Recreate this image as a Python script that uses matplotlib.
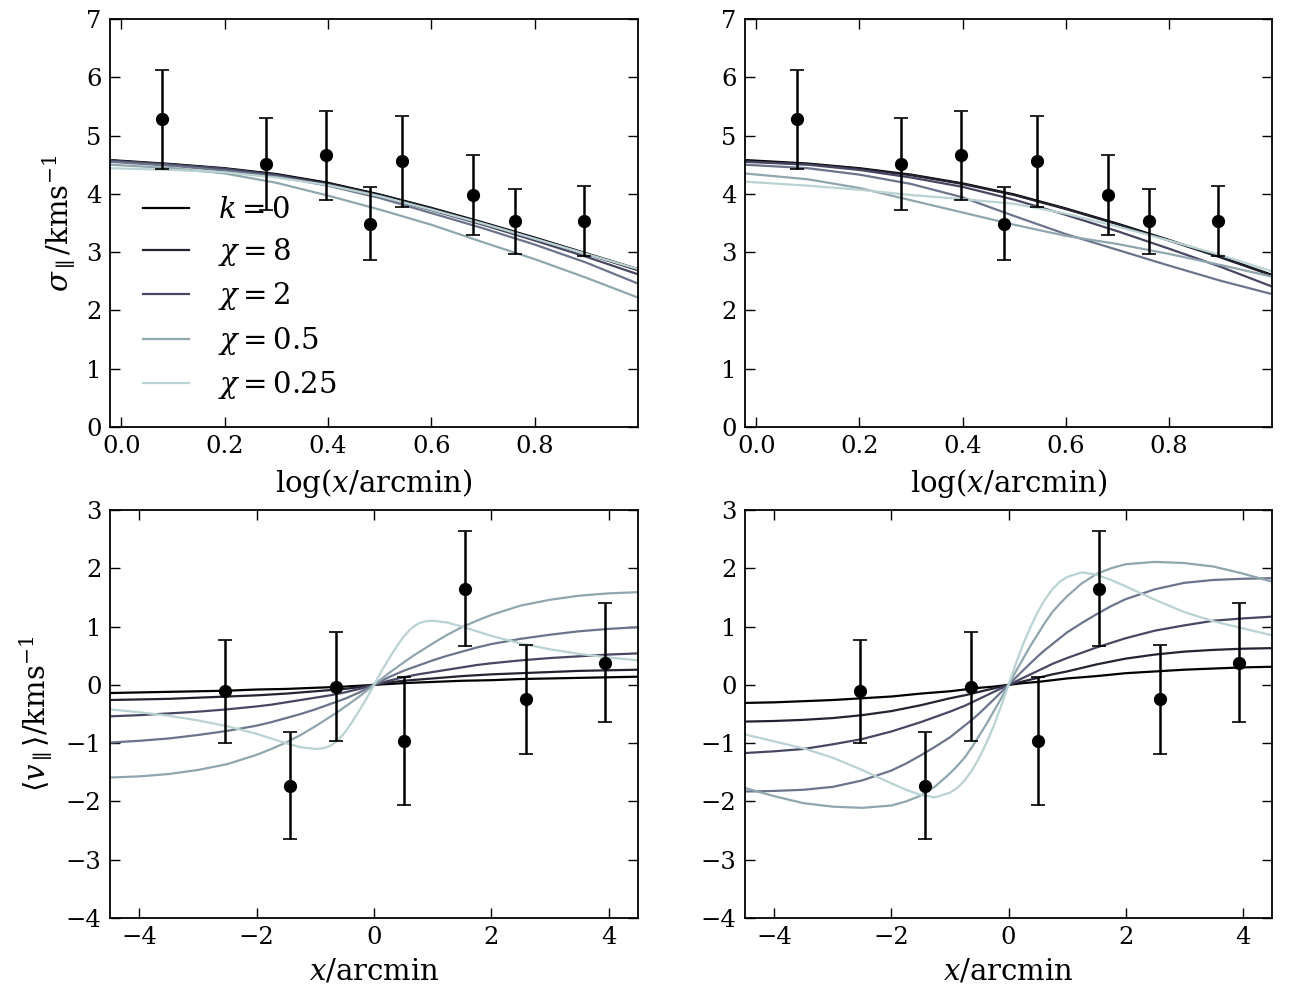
import numpy as np
import matplotlib
matplotlib.use("Agg")
import matplotlib.pyplot as plt

plt.rcParams['font.family'] = ['DejaVu Serif']
plt.rcParams['mathtext.fontset'] = 'dejavuserif'
plt.rcParams['axes.unicode_minus'] = True

# ---------------- data: velocity dispersion (top row) ----------------
sig_x = [0.078, 0.280, 0.397, 0.481, 0.544, 0.681, 0.761, 0.895]
sig_y = [5.28, 4.51, 4.66, 3.49, 4.56, 3.98, 3.53, 3.53]
sig_err = [0.85, 0.79, 0.76, 0.62, 0.78, 0.68, 0.56, 0.60]

# ---------------- data: mean velocity (bottom row) ----------------
vel_x = [-2.54, -1.43, -0.64, 0.51, 1.55, 2.59, 3.93]
vel_y = [-0.11, -1.73, -0.03, -0.96, 1.65, -0.25, 0.38]
vel_err = [0.88, 0.92, 0.94, 1.10, 0.99, 0.93, 1.02]

# ---------------- model curves, top row ----------------
top_x = [-0.022, 0.1, 0.2, 0.3, 0.4, 0.5, 0.6, 0.7, 0.8, 0.9, 1.0]

top_left = [
    [4.58, 4.51, 4.44, 4.34, 4.19, 3.99, 3.76, 3.51, 3.25, 2.98, 2.71],
    [4.57, 4.50, 4.43, 4.33, 4.18, 3.98, 3.75, 3.50, 3.24, 2.97, 2.69],
    [4.57, 4.50, 4.43, 4.32, 4.16, 3.96, 3.72, 3.47, 3.20, 2.92, 2.62],
    [4.55, 4.48, 4.40, 4.30, 4.14, 3.93, 3.67, 3.41, 3.13, 2.82, 2.46],
    [4.50, 4.44, 4.35, 4.19, 3.97, 3.73, 3.47, 3.17, 2.88, 2.56, 2.22],
    [4.44, 4.41, 4.37, 4.28, 4.15, 3.96, 3.73, 3.49, 3.23, 2.97, 2.71],
]

top_right = [
    [4.58, 4.52, 4.44, 4.33, 4.18, 3.99, 3.75, 3.49, 3.21, 2.92, 2.61],
    [4.56, 4.51, 4.43, 4.32, 4.17, 3.98, 3.74, 3.48, 3.20, 2.91, 2.60],
    [4.55, 4.50, 4.41, 4.28, 4.12, 3.90, 3.64, 3.36, 3.06, 2.75, 2.41],
    [4.50, 4.44, 4.33, 4.17, 3.94, 3.62, 3.31, 3.04, 2.77, 2.51, 2.28],
    [4.35, 4.25, 4.10, 3.89, 3.68, 3.47, 3.28, 3.14, 2.97, 2.78, 2.58],
    [4.21, 4.14, 4.07, 3.98, 3.91, 3.83, 3.66, 3.44, 3.20, 2.95, 2.67],
]

# ---------------- model curves, bottom row ----------------
bot_x = [-4.5, -4.0, -3.5, -3.0, -2.5, -2.0, -1.75, -1.5, -1.25, -1.0, -0.875, -0.75,
         -0.625, -0.5, -0.375, -0.25, -0.125, 0.0,
         0.125, 0.25, 0.375, 0.5, 0.625, 0.75, 0.875, 1.0, 1.25, 1.5, 1.75, 2.0,
         2.5, 3.0, 3.5, 4.0, 4.5]

bot_left = [
    [-0.14, -0.13, -0.12, -0.11, -0.10, -0.08, -0.075, -0.07, -0.06, -0.05, -0.045, -0.04,
     -0.035, -0.03, -0.022, -0.015, -0.008, 0.0,
     0.008, 0.015, 0.022, 0.03, 0.035, 0.04, 0.045, 0.05, 0.06, 0.07, 0.075, 0.08,
     0.10, 0.11, 0.12, 0.13, 0.14],
    [-0.26, -0.25, -0.24, -0.22, -0.20, -0.18, -0.165, -0.15, -0.13, -0.11, -0.10, -0.09,
     -0.08, -0.07, -0.055, -0.04, -0.02, 0.0,
     0.02, 0.04, 0.055, 0.07, 0.08, 0.09, 0.10, 0.11, 0.13, 0.15, 0.165, 0.18,
     0.20, 0.22, 0.24, 0.25, 0.26],
    [-0.54, -0.52, -0.49, -0.46, -0.42, -0.37, -0.34, -0.30, -0.26, -0.22, -0.20, -0.18,
     -0.155, -0.13, -0.10, -0.07, -0.035, 0.0,
     0.035, 0.07, 0.10, 0.13, 0.155, 0.18, 0.20, 0.22, 0.26, 0.30, 0.34, 0.37,
     0.42, 0.46, 0.49, 0.52, 0.54],
    [-0.99, -0.96, -0.92, -0.86, -0.79, -0.70, -0.64, -0.57, -0.50, -0.42, -0.375, -0.33,
     -0.285, -0.24, -0.185, -0.13, -0.065, 0.0,
     0.065, 0.13, 0.185, 0.24, 0.285, 0.33, 0.375, 0.42, 0.50, 0.57, 0.64, 0.70,
     0.79, 0.86, 0.92, 0.96, 0.99],
    [-1.59, -1.57, -1.53, -1.46, -1.36, -1.20, -1.10, -0.99, -0.86, -0.71, -0.63, -0.55,
     -0.47, -0.38, -0.29, -0.20, -0.10, 0.0,
     0.10, 0.20, 0.29, 0.38, 0.47, 0.55, 0.63, 0.71, 0.86, 0.99, 1.10, 1.20,
     1.36, 1.46, 1.53, 1.57, 1.59],
    [-0.42, -0.47, -0.53, -0.61, -0.71, -0.84, -0.92, -1.00, -1.07, -1.10, -1.09, -1.05,
     -0.96, -0.82, -0.64, -0.44, -0.23, 0.0,
     0.23, 0.44, 0.64, 0.82, 0.96, 1.05, 1.09, 1.10, 1.07, 1.00, 0.92, 0.84,
     0.71, 0.61, 0.53, 0.47, 0.42],
]

bot_right = [
    [-0.31, -0.30, -0.28, -0.26, -0.23, -0.20, -0.175, -0.15, -0.13, -0.11, -0.095, -0.08,
     -0.065, -0.05, -0.04, -0.03, -0.015, 0.0,
     0.015, 0.03, 0.04, 0.05, 0.065, 0.08, 0.095, 0.11, 0.13, 0.15, 0.175, 0.20,
     0.23, 0.26, 0.28, 0.30, 0.31],
    [-0.63, -0.62, -0.60, -0.57, -0.52, -0.45, -0.40, -0.35, -0.29, -0.23, -0.205, -0.18,
     -0.15, -0.12, -0.09, -0.06, -0.03, 0.0,
     0.03, 0.06, 0.09, 0.12, 0.15, 0.18, 0.205, 0.23, 0.29, 0.35, 0.40, 0.45,
     0.52, 0.57, 0.60, 0.62, 0.63],
    [-1.17, -1.14, -1.10, -1.02, -0.93, -0.80, -0.72, -0.64, -0.55, -0.46, -0.41, -0.36,
     -0.30, -0.24, -0.18, -0.12, -0.06, 0.0,
     0.06, 0.12, 0.18, 0.24, 0.30, 0.36, 0.41, 0.46, 0.55, 0.64, 0.72, 0.80,
     0.93, 1.02, 1.10, 1.14, 1.17],
    [-1.83, -1.82, -1.80, -1.75, -1.64, -1.47, -1.35, -1.21, -1.06, -0.90, -0.80, -0.70,
     -0.60, -0.49, -0.37, -0.25, -0.125, 0.0,
     0.125, 0.25, 0.37, 0.49, 0.60, 0.70, 0.80, 0.90, 1.06, 1.21, 1.35, 1.47,
     1.64, 1.75, 1.80, 1.82, 1.83],
    [-1.77, -1.91, -2.03, -2.09, -2.11, -2.07, -2.00, -1.90, -1.74, -1.52, -1.39, -1.25,
     -1.07, -0.87, -0.67, -0.45, -0.23, 0.0,
     0.23, 0.45, 0.67, 0.87, 1.07, 1.25, 1.39, 1.52, 1.74, 1.90, 2.00, 2.07,
     2.11, 2.09, 2.03, 1.91, 1.77],
    [-0.85, -0.97, -1.09, -1.25, -1.46, -1.69, -1.80, -1.89, -1.93, -1.85, -1.77, -1.64,
     -1.47, -1.25, -0.99, -0.70, -0.36, 0.0,
     0.36, 0.70, 0.99, 1.25, 1.47, 1.64, 1.77, 1.85, 1.93, 1.89, 1.80, 1.69,
     1.46, 1.25, 1.09, 0.97, 0.85],
]

labels = [r'$k=0$', r'$\chi=8$', r'$\chi=2$', None, r'$\chi=0.5$', r'$\chi=0.25$']
cmap_pos = [0.0, 0.16, 0.32, 0.48, 0.64, 0.80]
colors = [plt.cm.bone(p) for p in cmap_pos]

# ---------------- figure ----------------
W, H = 1308, 1008
fig = plt.figure(figsize=(W / 100, H / 100), dpi=100, facecolor='white')

def box(l, r, t, b):
    return [l / W, 1 - b / H, (r - l) / W, (b - t) / H]

ax_tl = fig.add_axes(box(110, 638, 19, 427))
ax_tr = fig.add_axes(box(745, 1272, 19, 427))
ax_bl = fig.add_axes(box(110, 638, 510, 918))
ax_br = fig.add_axes(box(745, 1272, 510, 918))

def style(ax):
    for s in ax.spines.values():
        s.set_linewidth(1.3)
    ax.tick_params(direction='in', top=True, right=True, length=7, width=1.0,
                   labelsize=17.5, pad=6)

for ax, curves in [(ax_tl, top_left), (ax_tr, top_right)]:
    for i, c in enumerate(curves):
        ax.plot(top_x, c, color=colors[i], lw=1.6, label=labels[i])
    ax.errorbar(sig_x, sig_y, yerr=sig_err, fmt='o', color='black', ms=8.5,
                elinewidth=1.8, capsize=5, capthick=1.2, zorder=5)
    ax.set_xlim(-0.022, 1.0)
    ax.set_ylim(0, 7)
    ax.set_xticks([0.0, 0.2, 0.4, 0.6, 0.8])
    ax.set_yticks(range(0, 8))
    ax.set_xlabel(r'$\log(x/\mathrm{arcmin})$', fontsize=21, labelpad=6)
    style(ax)

for ax, curves in [(ax_bl, bot_left), (ax_br, bot_right)]:
    for i, c in enumerate(curves):
        ax.plot(bot_x, c, color=colors[i], lw=1.6)
    ax.errorbar(vel_x, vel_y, yerr=vel_err, fmt='o', color='black', ms=8.5,
                elinewidth=1.8, capsize=5, capthick=1.2, zorder=5)
    ax.set_xlim(-4.5, 4.5)
    ax.set_ylim(-4, 3)
    ax.set_xticks([-4, -2, 0, 2, 4])
    ax.set_yticks(range(-4, 4))
    ax.set_xlabel(r'$x/\mathrm{arcmin}$', fontsize=21, labelpad=6)
    style(ax)

ax_tl.set_ylabel(r'$\sigma_{\parallel}/\mathrm{kms}^{-1}$', fontsize=21, labelpad=6)
ax_bl.set_ylabel(r'$\langle v_{\parallel}\rangle/\mathrm{kms}^{-1}$', fontsize=21, labelpad=8)

leg = ax_tl.legend(loc='center left', bbox_to_anchor=(0.012, 0.315), frameon=False,
                   fontsize=21, handlelength=1.6, handletextpad=1.0, labelspacing=0.42)

fig.savefig('out.png', dpi=100, facecolor='white')
